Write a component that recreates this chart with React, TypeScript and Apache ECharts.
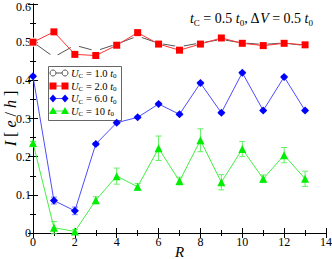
import React, { useEffect, useRef } from "react";
import * as echarts from "echarts";

const R = [0, 1, 2, 3, 4, 5, 6, 7, 8, 9, 10, 11, 12, 13];
const u1 = [0.5, 0.461, 0.492, 0.477, 0.495, 0.516, 0.497, 0.488, 0.498, 0.507, 0.498, 0.494, 0.498, 0.491];
const u2 = [0.5, 0.527, 0.468, 0.465, 0.492, 0.525, 0.495, 0.479, 0.495, 0.511, 0.497, 0.491, 0.497, 0.493];
const u6 = [0.411, 0.085, 0.058, 0.233, 0.289, 0.303, 0.338, 0.311, 0.393, 0.315, 0.42, 0.321, 0.409, 0.321];
const u6err = [0.003, 0.009, 0.01, 0.004, 0.003, 0.003, 0.003, 0.003, 0.003, 0.003, 0.003, 0.003, 0.003, 0.003];
const u10 = [0.236, 0.014, 0.004, 0.086, 0.149, 0.121, 0.222, 0.136, 0.243, 0.133, 0.22, 0.142, 0.204, 0.142];
const u10err = [0.004, 0.016, 0.005, 0.009, 0.021, 0.009, 0.032, 0.01, 0.03, 0.02, 0.02, 0.01, 0.02, 0.02];

const legendLabels = [
  "{i|U}{s|C}{n| = 1.0 }{i|t}{s|0}",
  "{i|U}{s|C}{n| = 2.0 }{i|t}{s|0}",
  "{i|U}{s|C}{n| = 6.0 }{i|t}{s|0}",
  "{i|U}{s|C}{n| = 10 }{i|t}{s|0}",
];

const FONT = "Liberation Serif";

const C_BLACK = "#555";
const C_RED = "#ff0000";
const C_BLUE = "#0000ff";
const C_GREEN = "#00ee00";

function pairs(vals: number[]) {
  return R.map((r, i) => [r, vals[i]]);
}
function errData(vals: number[], errs: number[]) {
  return R.map((r, i) => [r, vals[i] - errs[i], vals[i] + errs[i]]);
}

function errSeries(vals: number[], errs: number[], color: string) {
  return {
    type: "custom",
    data: errData(vals, errs),
    z: 1,
    silent: true,
    renderItem: (params: any, api: any) => {
      const x = api.value(0);
      const lo = api.coord([x, api.value(1)]);
      const hi = api.coord([x, api.value(2)]);
      const w = 3;
      const st = { stroke: color, lineWidth: 1 };
      return {
        type: "group",
        children: [
          { type: "line", shape: { x1: lo[0], y1: lo[1], x2: hi[0], y2: hi[1] }, style: st },
          { type: "line", shape: { x1: lo[0] - w, y1: lo[1], x2: lo[0] + w, y2: lo[1] }, style: st },
          { type: "line", shape: { x1: hi[0] - w, y1: hi[1], x2: hi[0] + w, y2: hi[1] }, style: st },
        ],
      };
    },
  };
}

function marker(kind: string, cx: number, cy: number): any {
  if (kind === "circle")
    return { type: "circle", shape: { cx, cy, r: 3 }, style: { fill: "#fff", stroke: C_BLACK, lineWidth: 1 } };
  if (kind === "rect")
    return { type: "rect", shape: { x: cx - 3.5, y: cy - 3.5, width: 7, height: 7 }, style: { fill: C_RED } };
  if (kind === "diamond")
    return {
      type: "polygon",
      shape: { points: [[cx, cy - 4], [cx + 3.5, cy], [cx, cy + 4], [cx - 3.5, cy]] },
      style: { fill: C_BLUE },
    };
  return {
    type: "polygon",
    shape: { points: [[cx, cy - 4], [cx + 4, cy + 3], [cx - 4, cy + 3]] },
    style: { fill: C_GREEN },
  };
}

export default function App() {
  const ref = useRef<HTMLDivElement>(null);
  useEffect(() => {
    const chart = echarts.init(ref.current!, null, { renderer: "svg" });
    const axisLine = { show: true, lineStyle: { color: "#000", width: 1 } };
    const label = { fontFamily: FONT, fontSize: 12, color: "#000" };
    const richLegend = {
      i: { fontFamily: FONT, fontStyle: "italic", fontSize: 10.5, fill: "#000", color: "#000" },
      n: { fontFamily: FONT, fontSize: 10.5, fill: "#000", color: "#000" },
      s: { fontFamily: FONT, fontSize: 7, fill: "#000", color: "#000", padding: [6, 0, 0, 0] },
    };
    const kinds = ["circle", "rect", "diamond", "triangle"];
    const lineColors = [C_BLACK, "#ff3333", "#4d4dff", "#44ee44"];
    const rowsY = [73, 86, 98.5, 111];
    const legendChildren: any[] = [
      {
        type: "rect",
        shape: { x: 48.5, y: 66.5, width: 73, height: 54 },
        style: { fill: "#fff", stroke: "#666", lineWidth: 1 },
      },
    ];
    rowsY.forEach((y, i) => {
      legendChildren.push({
        type: "line",
        shape: { x1: 53, y1: y, x2: 65, y2: y },
        style: { stroke: lineColors[i], lineWidth: 1 },
      });
      legendChildren.push(marker(kinds[i], 53, y));
      legendChildren.push(marker(kinds[i], 65, y));
      legendChildren.push({
        type: "text",
        x: 71,
        y: y,
        style: { text: legendLabels[i], rich: richLegend, verticalAlign: "middle", align: "left" },
      });
    });

    chart.setOption({
      animation: false,
      title: {
        text: "{i|t}{s|C}{n| = 0.5 }{i|t}{s|0}{n|, Δ}{i|V}{n| = 0.5 }{i|t}{s|0}",
        right: 14,
        top: 5,
        textStyle: {
          fontWeight: "normal",
          rich: {
            i: { fontFamily: FONT, fontStyle: "italic", fontSize: 14, color: "#000", fontWeight: "normal" },
            n: { fontFamily: FONT, fontSize: 14, color: "#000", fontWeight: "normal" },
            s: { fontFamily: FONT, fontSize: 9, color: "#000", fontWeight: "normal", padding: [8, 0, 0, 0] },
          },
        },
      },
      graphic: [{ type: "group", z: 100, children: legendChildren }],
      grid: { left: 33, right: 6, top: 4, bottom: 26, containLabel: false, outerBoundsMode: "none" },
      xAxis: [
        {
          type: "value",
          min: 0,
          max: 14,
          interval: 2,
          position: "bottom",
          name: "R",
          nameLocation: "middle",
          nameGap: 11,
          nameMoveOverlap: false,
          nameTextStyle: { fontFamily: FONT, fontStyle: "italic", fontSize: 15, color: "#000" },
          axisLine,
          axisTick: { show: true, inside: true, length: 5, lineStyle: { color: "#000" } },
          minorTick: { show: true, splitNumber: 2, length: 3, lineStyle: { color: "#000" } },
          axisLabel: { ...label, margin: 3 },
          splitLine: { show: false },
        },
        {
          type: "value",
          min: 0,
          max: 14,
          interval: 2,
          position: "top",
          axisLine,
          axisTick: { show: true, inside: true, length: 5, lineStyle: { color: "#000" } },
          minorTick: { show: true, splitNumber: 2, length: 3, lineStyle: { color: "#000" } },
          axisLabel: { show: false },
          splitLine: { show: false },
        },
      ],
      yAxis: [
        {
          type: "value",
          min: 0,
          max: 0.6,
          interval: 0.1,
          position: "left",
          name: "{i|I}{n| [ }{i|e}{n| / }{i|h}{n| ]}",
          nameLocation: "middle",
          nameGap: 15,
          nameMoveOverlap: false,
          nameTextStyle: {
            rich: {
              i: { fontFamily: FONT, fontStyle: "italic", fontSize: 16, color: "#000" },
              n: { fontFamily: FONT, fontSize: 16, color: "#000" },
            },
          },
          axisLine,
          axisTick: { show: true, inside: true, length: 5, lineStyle: { color: "#000" } },
          minorTick: { show: true, splitNumber: 2, length: 3, lineStyle: { color: "#000" } },
          axisLabel: {
            ...label,
            margin: 2,
            formatter: (v: number) => (v >= 0.59 ? "{t|" + v.toFixed(1) + "}" : v === 0 ? "0" : v.toFixed(1)),
            rich: { t: { fontFamily: FONT, fontSize: 12, color: "#000", padding: [5, 0, 0, 0] } },
          },
          splitLine: { show: false },
        },
        {
          type: "value",
          min: 0,
          max: 0.6,
          interval: 0.1,
          position: "right",
          axisLine,
          axisTick: { show: true, inside: true, length: 5, lineStyle: { color: "#000" } },
          minorTick: { show: true, splitNumber: 2, length: 3, lineStyle: { color: "#000" } },
          axisLabel: { show: false },
          splitLine: { show: false },
        },
      ],
      series: [
        errSeries(u6, u6err, "#8080ff"),
        errSeries(u10, u10err, "#66ee66"),
        {
          name: "U1",
          type: "line",
          data: pairs(u1),
          symbol: "emptyCircle",
          symbolSize: 7,
          z: 3,
          itemStyle: { color: "#fff", borderColor: C_BLACK, borderWidth: 1 },
          lineStyle: { color: C_BLACK, width: 1 },
        },
        {
          name: "U2",
          type: "line",
          data: pairs(u2),
          symbol: "rect",
          symbolSize: 7,
          z: 4,
          itemStyle: { color: C_RED },
          lineStyle: { color: "#ff3333", width: 1 },
        },
        {
          name: "U6",
          type: "line",
          data: pairs(u6),
          symbol: "diamond",
          symbolSize: 8,
          z: 4,
          itemStyle: { color: C_BLUE },
          lineStyle: { color: "#4d4dff", width: 1 },
        },
        {
          name: "U10",
          type: "line",
          data: pairs(u10),
          symbol: "triangle",
          symbolSize: 8,
          z: 4,
          itemStyle: { color: C_GREEN },
          lineStyle: { color: "#44ee44", width: 1 },
        },
      ],
    });
    return () => chart.dispose();
  }, []);
  return (
    <div
      ref={ref}
      style={{ position: "fixed", left: 0, top: 0, width: 332, height: 259, background: "#fff" }}
    />
  );
}
